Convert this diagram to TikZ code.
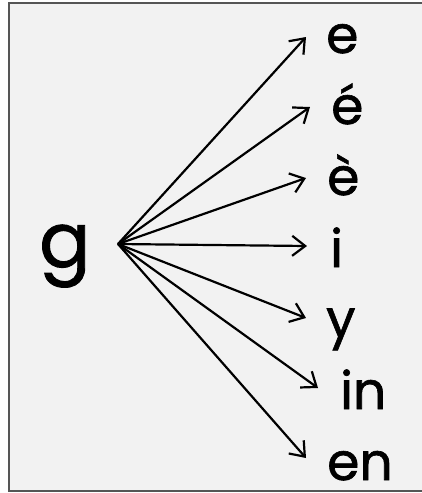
\documentclass[tikz,border=0pt]{standalone}
\usepackage{fontspec}
\setmainfont{Poppins}[BoldFont=Poppins, BoldFeatures={FakeBold=1.2}]
\usetikzlibrary{arrows.meta}
\definecolor{bgfill}{HTML}{F2F2F2}
\definecolor{framecol}{HTML}{555555}
\tikzset{
  target/.style={anchor=base west, inner sep=0pt, text depth=0pt, font=\fontsize{52}{52}\bfseries\selectfont},
  source/.style={anchor=base west, inner sep=0pt, text depth=0pt, font=\fontsize{76}{76}\bfseries\selectfont},
  conn/.style={line width=2.2pt, -{Straight Barb[length=13pt,width=20pt,line width=2.2pt]}}
}
\begin{document}
\begin{tikzpicture}[x=1pt,y=-1pt]
\useasboundingbox (0,0) rectangle (421,493);
\path[fill=bgfill,draw=framecol,line width=2pt] (9,3) rectangle (430,491);
\node[source] (g) at (39,267) {g};
\coordinate (o) at (118,244);
\node[target] (e) at (326,53) {e};
\node[target] (eacute) at (331,124) {é};
\node[target] (egrave) at (327,195) {è};
\node[target] (i) at (330,267) {i};
\node[target] (y) at (326,337) {y};
\node[target] (in) at (340,409) {in};
\node[target] (en) at (327,480) {en};
\coordinate (te) at (306,37);
\coordinate (teacute) at (310,107);
\coordinate (tegrave) at (306,178);
\coordinate (ti) at (307,246);
\coordinate (ty) at (306,318);
\coordinate (tin) at (318,388);
\coordinate (ten) at (306,458);
\foreach \t in {te,teacute,tegrave,ti,ty,tin,ten}
  \draw[conn] (o) -- (\t);
\end{tikzpicture}
\end{document}
